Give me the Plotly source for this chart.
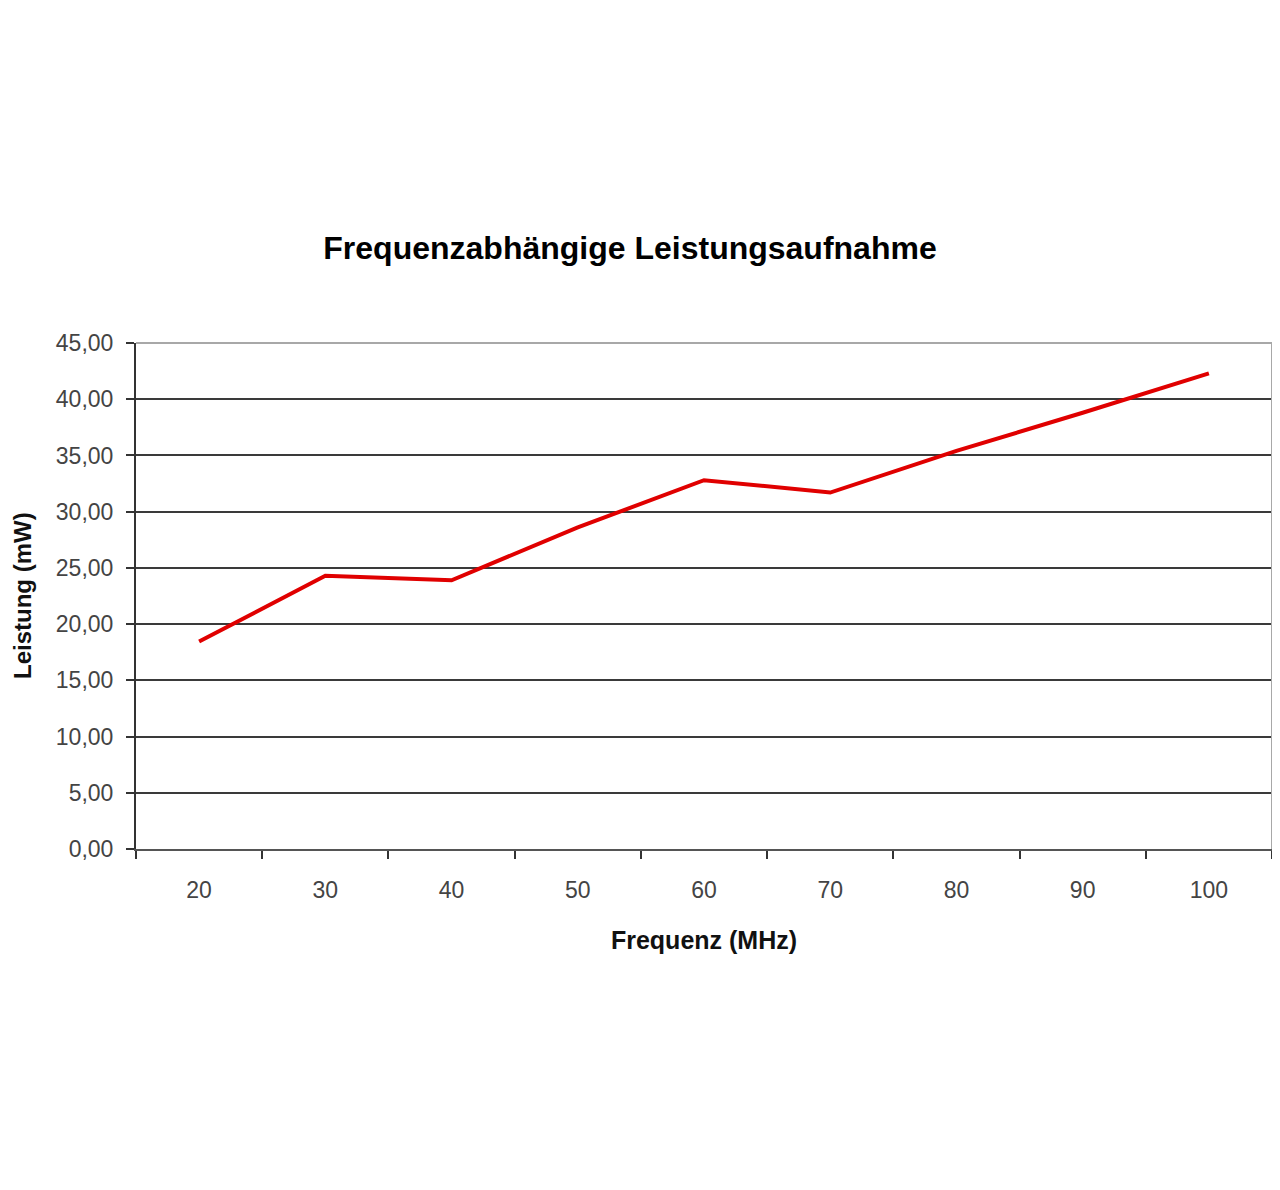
import plotly.graph_objects as go

frequencies = ["20", "30", "40", "50", "60", "70", "80", "90", "100"]
power_mw = [18.45, 24.3, 23.9, 28.6, 32.8, 31.7, 35.4, 38.8, 42.3]
y_ticks = [0, 5, 10, 15, 20, 25, 30, 35, 40, 45]

title_text = "Frequenzabhängige Leistungsaufnahme"
x_title = "Frequenz (MHz)"
y_title = "Leistung (mW)"

FONT = "Liberation Sans, Arial, sans-serif"
L, R, T, B = 128, 16, 335, 349
W, H = 1280, 1190
PW = W - L - R

fig = go.Figure()
fig.add_trace(go.Scatter(
    x=frequencies, y=power_mw, mode="lines",
    line=dict(color="#e00000", width=4),
    hoverinfo="x+y", showlegend=False,
))

fig.update_layout(
    width=W, height=H,
    paper_bgcolor="white", plot_bgcolor="white",
    margin=dict(l=L, r=R, t=T, b=B, autoexpand=False),
    separators=",.",
    font=dict(family=FONT, color="#222"),
    title=dict(text="<b>" + title_text + "</b>", x=622 / W, xanchor="center",
               y=1 - 240 / H, yanchor="middle",
               font=dict(family=FONT, size=32, color="black")),
    xaxis=dict(
        type="category", tickson="boundaries", range=[-0.5, 8.5],
        automargin=False,
        showgrid=False, showline=True, linecolor="#555", linewidth=2,
        ticks="outside", ticklen=8, tickwidth=1.5, tickcolor="#333",
        tickfont=dict(size=23, color="#444"), ticklabelstandoff=19,
        title=dict(text="<b>" + x_title + "</b>", standoff=30,
                   font=dict(size=25, color="#111")),
        zeroline=False,
    ),
    yaxis=dict(
        range=[0, 45], tickvals=y_ticks, tickformat=".2f",
        automargin=False,
        showgrid=True, gridcolor="#3a3a3a", gridwidth=1.8,
        showline=True, linecolor="#333", linewidth=2,
        ticks="outside", ticklen=8, tickwidth=1.5, tickcolor="#333",
        tickfont=dict(size=23, color="#444"), ticklabelstandoff=8,
        zeroline=False,
    ),
    annotations=[
        dict(text="<b>" + y_title + "</b>", textangle=-90,
             xref="paper", yref="paper", x=(22 - 8 - L) / PW, y=0.5,
             xanchor="center", yanchor="middle", showarrow=False,
             font=dict(size=24, color="#111")),
    ],
    shapes=[
        dict(type="line", xref="paper", yref="paper", x0=0, x1=1, y0=1, y1=1,
             line=dict(color="#a8a8a8", width=2), layer="above"),
        dict(type="line", xref="paper", yref="paper", x0=1, x1=1, y0=0, y1=1,
             line=dict(color="#a8a8a8", width=2), layer="above"),
    ],
)

fig.write_html("out.html")
